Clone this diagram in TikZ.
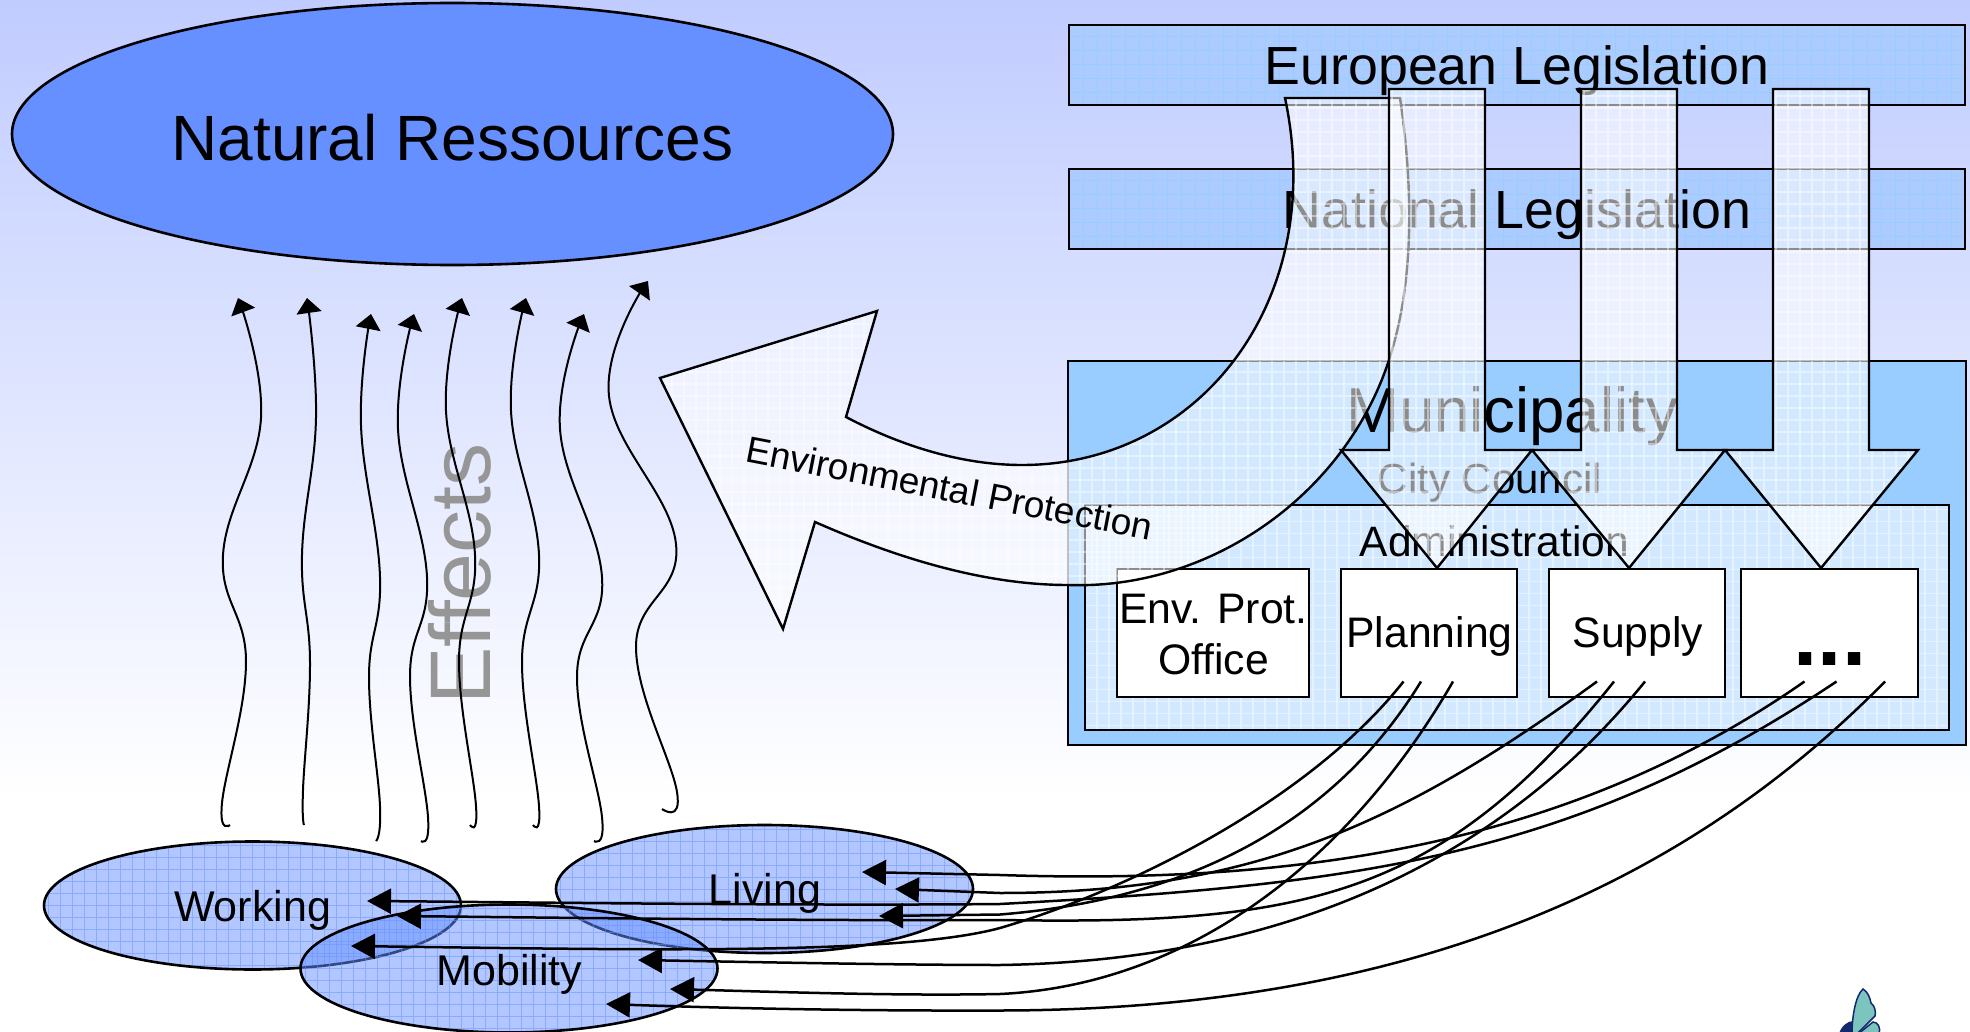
\documentclass[tikz,border=0pt]{standalone}
\usepackage{fontspec}
\setmainfont{Liberation Sans}
\usepackage{tikz}
\usetikzlibrary{arrows.meta}
\usetikzlibrary{shapes.geometric}

\definecolor{skytop}{HTML}{C0CCFF}
\definecolor{lakeblue}{HTML}{6690FF}
\definecolor{munblue}{HTML}{99CCFF}
\definecolor{legisblue}{HTML}{ACCCFF}
\definecolor{effectgray}{HTML}{969696}
\definecolor{wingteal}{HTML}{7CC4BE}
\definecolor{wingnavy}{HTML}{14286E}

\tikzset{
	txt/.style={inner sep=0pt, anchor=base, text=black},
	blueprint/.style={path picture={\draw[draw=white, draw opacity=0.45, line width=1.6pt]
		(path picture bounding box.south west) grid[step=12pt] (path picture bounding box.north east);}},
	glass/.style={draw=black, line width=2.4pt, fill=white, fill opacity=0.55, blueprint},
	legis/.style={draw=black, line width=2.8pt, fill=legisblue, rectangle, inner sep=0pt,
		path picture={\draw[draw=munblue, line width=1pt]
		(path picture bounding box.south west) grid[step=14pt] (path picture bounding box.north east);}},
	officebox/.style={draw=black, line width=2.8pt, fill=white, rectangle, inner sep=0pt},
	sphere/.style={ellipse, inner sep=0pt, draw=black, line width=2.6pt, fill=lakeblue,
		fill opacity=0.5, minimum width=417pt, minimum height=128pt,
		path picture={\draw[draw=lakeblue, draw opacity=0.5, line width=1pt]
		(path picture bounding box.south west) grid[step=12pt] (path picture bounding box.north east);}},
	wave/.style={draw=black, line width=2pt, -{Triangle[length=15pt,width=25pt]}},
	link/.style={draw=black, line width=2.5pt, -{Triangle[length=24pt,width=25pt]}}
}

\begin{document}
\begin{tikzpicture}[x=1pt, y=-1pt]
	\useasboundingbox (0,0) rectangle (1970,1032);
	\shade[top color=skytop, bottom color=white] (0,0) rectangle (1970,800);
	\fill[white] (0,800) rectangle (1970,1032);

	\node[ellipse, inner sep=0pt, draw=black, line width=2.6pt, fill=lakeblue, minimum width=881pt, minimum height=262pt] (nature) at (452.5,134) {};
	\node[txt, font=\fontsize{64}{64}\selectfont] (naturetext) at (452.5,161) {Natural Ressources};

	\node[legis, minimum width=896pt, minimum height=80pt] (europe) at (1517,65) {};
	\node[legis, minimum width=896pt, minimum height=80pt] (nation) at (1517,209) {};
	\node[rectangle, inner sep=0pt, draw=black, line width=2.8pt, fill=munblue, minimum width=898pt, minimum height=384pt] (town) at (1517,553) {};
	\begin{scope}[every node/.style={txt, font=\fontsize{53.7}{53.7}\selectfont}]
		\node (europetext) at (1517,85) {European Legislation};
		\node (nationtext) at (1517,229) {National Legislation};
	\end{scope}
	\node[txt, font=\fontsize{63.5}{63.5}\selectfont] (towntext) at (1512,432) {Municipality};
	\node[txt, font=\fontsize{42}{42}\selectfont] (counciltext) at (1490,493) {City Council};
	\node[rectangle, inner sep=0pt, glass, minimum width=864pt, minimum height=225pt] (admin) at (1517,617.5) {};
	\node[txt, font=\fontsize{42.5}{42.5}\selectfont] (admintext) at (1494.5,556) {Administration};

	\begin{scope}[every node/.style={officebox}]
		\node[minimum width=192pt, minimum height=128pt] (envoffice) at (1213,633) {};
		\node[minimum width=176pt, minimum height=128pt] (planning) at (1429,633) {};
		\node[minimum width=176pt, minimum height=128pt] (supply) at (1637,633) {};
		\node[minimum width=177pt, minimum height=128pt] (others) at (1829.5,633) {};
	\end{scope}
	\begin{scope}[every node/.style={txt, font=\fontsize{42.7}{42.7}\selectfont}]
		\node (envtext) at (1213.5,623) {Env. Prot.};
		\node (officetext) at (1213.5,674) {Office};
		\node (planningtext) at (1429.5,647.5) {Planning};
		\node (supplytext) at (1638,647.5) {Supply};
	\end{scope}
	\node[txt, font=\fontsize{87}{87}\selectfont\bfseries] (otherstext) at (1830,665) {...};

	\path[glass] (1285,98) -- (1400,98) .. controls (1415,200) and (1412,290) .. (1389,360)
		.. controls (1345,495) and (1210,590) .. (1068,585)
		.. controls (980,585) and (890,555) .. (815,522)
		-- (783,629) -- (660,378) -- (877,311) -- (846,417)
		.. controls (905,448) and (965,465) .. (1022,465)
		.. controls (1200,465) and (1328,300) .. (1285,98) -- cycle;
	\path[glass] (1389,89) -- (1485,89) -- (1485,450) -- (1532,450) -- (1437,568) -- (1341,450) -- (1389,450) -- cycle;
	\path[glass] (1581,89) -- (1677,89) -- (1677,450) -- (1725,450) -- (1629,568) -- (1532,450) -- (1581,450) -- cycle;
	\path[glass] (1773,89) -- (1869,89) -- (1869,450) -- (1918,450) -- (1821,568) -- (1725,450) -- (1773,450) -- cycle;
	\node[txt, rotate=-10.9, font=\fontsize{37}{37}\selectfont] (protection) at (947,501) {Environmental Protection};

	\node[txt, text=effectgray, rotate=90, font=\fontsize{86}{86}\selectfont] (effects) at (490,574) {Effects};
	\draw[wave] plot[smooth, tension=0.7] coordinates {(230,825) (222,803) (246,662) (223,555) (261,418) (238,298)};
	\draw[wave] plot[smooth, tension=0.7] coordinates {(304,825) (303,790) (310,662) (302,555) (316,418) (307,298)};
	\draw[wave] plot[smooth, tension=0.7] coordinates {(376,841) (380,806) (369,677) (380,577) (361,425) (371,314)};
	\draw[wave] plot[smooth, tension=0.7] coordinates {(421,841) (428,817) (410,677) (427,577) (398,429) (414,314)};
	\draw[wave] plot[smooth, tension=0.7] coordinates {(470,825) (476,806) (459,662) (475,555) (446,411) (462,298)};
	\draw[wave] plot[smooth, tension=0.7] coordinates {(533,825) (539,806) (522,662) (539,555) (511,411) (526,298)};
	\draw[wave] plot[smooth, tension=0.7] coordinates {(594,841) (602,817) (577,677) (602,577) (560,429) (584,314)};
	\draw[wave] plot[smooth, tension=0.7] coordinates {(662,809) (677,792) (636,647) (676,544) (609,396) (648,281)};

	\node[sphere] (working) at (252.5,905.5) {};
	\node[sphere] (living) at (764.5,889) {};
	\node[sphere] (mobility) at (509,968.5) {};
	\begin{scope}[every node/.style={txt, font=\fontsize{43}{43}\selectfont}]
		\node (workingtext) at (252.5,921) {Working};
		\node (livingtext) at (765,904) {Living};
		\node (mobilitytext) at (509.5,985) {Mobility};
	\end{scope}

	\coordinate (plan1) at (1403.5,681.5);
	\coordinate (plan2) at (1421,681.5);
	\coordinate (plan3) at (1453,681.5);
	\coordinate (supp1) at (1597,681.5);
	\coordinate (supp2) at (1614,681.5);
	\coordinate (supp3) at (1645,681.5);
	\coordinate (more1) at (1804.5,681.5);
	\coordinate (more2) at (1836.5,681.5);
	\coordinate (more3) at (1885,681.5);
	\coordinate (live1) at (862,872);
	\coordinate (live2) at (895,889);
	\coordinate (live3) at (879,916);
	\coordinate (work1) at (367,901);
	\coordinate (work2) at (397,916);
	\coordinate (move1) at (351,946);
	\coordinate (move2) at (638,960);
	\coordinate (move3) at (670,989);
	\coordinate (move4) at (606,1004);

	\draw[link] (more1) .. controls (1570,845) and (1300,885) .. (1000,875) -- (live1);
	\draw[link] (supp1) .. controls (1400,825) and (1250,893) .. (1000,893) -- (live2);
	\draw[link] (plan2) .. controls (1330,830) and (1180,900) .. (1000,914.5) -- (live3);
	\draw[link] (more2) .. controls (1570,860) and (1350,885) .. (1000,904) .. controls (800,906) and (500,902) .. (work1);
	\draw[link] (supp2) .. controls (1440,900) and (1300,925) .. (1000,920) .. controls (800,921) and (500,917) .. (work2);
	\draw[link] (plan1) .. controls (1310,800) and (1130,890) .. (1000,928) .. controls (900,955) and (650,950) .. (move1);
	\draw[link] (supp3) .. controls (1460,910) and (1200,962) .. (1000,965) .. controls (900,965) and (750,962) .. (move2);
	\draw[link] (plan3) .. controls (1350,860) and (1190,985) .. (1000,994) .. controls (900,996) and (780,992) .. (move3);
	\draw[link] (more3) .. controls (1680,890) and (1400,1010) .. (1000,1010.5) .. controls (850,1011) and (720,1008) .. (move4);

	\path[fill=wingteal, draw=wingnavy, line width=1.5pt] (1852,1034) .. controls (1852,1015) and (1856,995) .. (1863,989)
		.. controls (1868,992) and (1870,998) .. (1871,1003) .. controls (1875,1006) and (1876,1012) .. (1875,1016) -- (1857,1034) -- cycle;
	\path[fill=wingteal, draw=wingnavy, line width=1.5pt] (1858,1034) -- (1873,1022) .. controls (1878,1022) and (1881,1028) .. (1879,1034) -- cycle;
	\path[fill=wingnavy] (1839,1034) .. controls (1841,1026) and (1848,1021) .. (1853,1021) -- (1852,1034) -- cycle;
\end{tikzpicture}
\end{document}
